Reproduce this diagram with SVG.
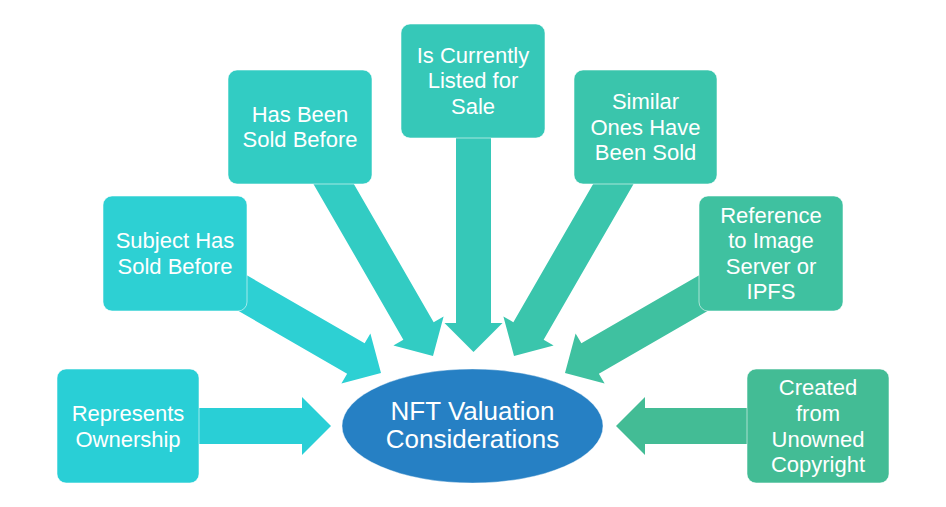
<svg xmlns="http://www.w3.org/2000/svg" width="946" height="507" viewBox="0 0 946 507">
<style>
  .box { stroke: #ffffff; stroke-opacity: 0.55; stroke-width: 1; }
  .lbl { fill: #ffffff; font-family: "Liberation Sans", Arial, sans-serif; font-size: 22px; text-anchor: middle; }
  .big { font-size: 26px; }
</style>
<rect width="946" height="507" fill="#ffffff"/>
<g id="connectors">
  <polygon fill="#29CFD6" points="0,0 -29,-29 -29,-18 -140,-18 -140,18 -29,18 -29,29" transform="translate(331,426)"/>
  <polygon fill="#2DD0D3" points="0,0 -29,-29 -29,-17.5 -170,-17.5 -170,17.5 -29,17.5 -29,29" transform="translate(381,373) rotate(30)"/>
  <polygon fill="#32CCC3" points="0,0 -29,-29 -29,-17.5 -210,-17.5 -210,17.5 -29,17.5 -29,29" transform="translate(433,356) rotate(60)"/>
  <polygon fill="#36C8B8" points="0,0 -29,-29 -29,-17.5 -220,-17.5 -220,17.5 -29,17.5 -29,29" transform="translate(473.5,352) rotate(90)"/>
  <polygon fill="#3AC5AC" points="0,0 -29,-29 -29,-17.5 -210,-17.5 -210,17.5 -29,17.5 -29,29" transform="translate(514,356) rotate(120)"/>
  <polygon fill="#3FC1A0" points="0,0 -29,-29 -29,-17.5 -170,-17.5 -170,17.5 -29,17.5 -29,29" transform="translate(565,373) rotate(150)"/>
  <polygon fill="#43BC95" points="0,0 -29,-29 -29,-18 -140,-18 -140,18 -29,18 -29,29" transform="translate(616,426) rotate(180)"/>
</g>
<g id="center">
  <ellipse cx="472.5" cy="426" rx="130.5" ry="57" fill="#2680C4" stroke="#ffffff" stroke-opacity="0.4"/>
  <text class="lbl big" x="472.5" y="420">NFT Valuation</text>
  <text class="lbl big" x="472.5" y="448">Considerations</text>
</g>
<g id="n-represents">
  <rect class="box" x="57" y="369" width="142" height="114" rx="9" fill="#29CFD6"/>
  <text class="lbl" x="128" y="421">Represents</text>
  <text class="lbl" x="128" y="447">Ownership</text>
</g>
<g id="n-subject">
  <rect class="box" x="103" y="196" width="144" height="115" rx="9" fill="#2DD0D3"/>
  <text class="lbl" x="175" y="248">Subject Has</text>
  <text class="lbl" x="175" y="274">Sold Before</text>
</g>
<g id="n-hasbeen">
  <rect class="box" x="228" y="70" width="144" height="114" rx="9" fill="#32CCC3"/>
  <text class="lbl" x="300" y="122">Has Been</text>
  <text class="lbl" x="300" y="147">Sold Before</text>
</g>
<g id="n-listed">
  <rect class="box" x="401" y="24" width="144" height="114" rx="9" fill="#36C8B8"/>
  <text class="lbl" x="473" y="63">Is Currently</text>
  <text class="lbl" x="473" y="88">Listed for</text>
  <text class="lbl" x="473" y="114">Sale</text>
</g>
<g id="n-similar">
  <rect class="box" x="574" y="70" width="143" height="114" rx="9" fill="#3AC5AC"/>
  <text class="lbl" x="645.5" y="109">Similar</text>
  <text class="lbl" x="645.5" y="135">Ones Have</text>
  <text class="lbl" x="645.5" y="160">Been Sold</text>
</g>
<g id="n-reference">
  <rect class="box" x="699" y="196" width="144" height="115" rx="9" fill="#3FC1A0"/>
  <text class="lbl" x="771" y="223">Reference</text>
  <text class="lbl" x="771" y="248">to Image</text>
  <text class="lbl" x="771" y="274">Server or</text>
  <text class="lbl" x="771" y="299">IPFS</text>
</g>
<g id="n-created">
  <rect class="box" x="747" y="369" width="142" height="114" rx="9" fill="#43BC95"/>
  <text class="lbl" x="818" y="395">Created</text>
  <text class="lbl" x="818" y="421">from</text>
  <text class="lbl" x="818" y="447">Unowned</text>
  <text class="lbl" x="818" y="472">Copyright</text>
</g>
</svg>
